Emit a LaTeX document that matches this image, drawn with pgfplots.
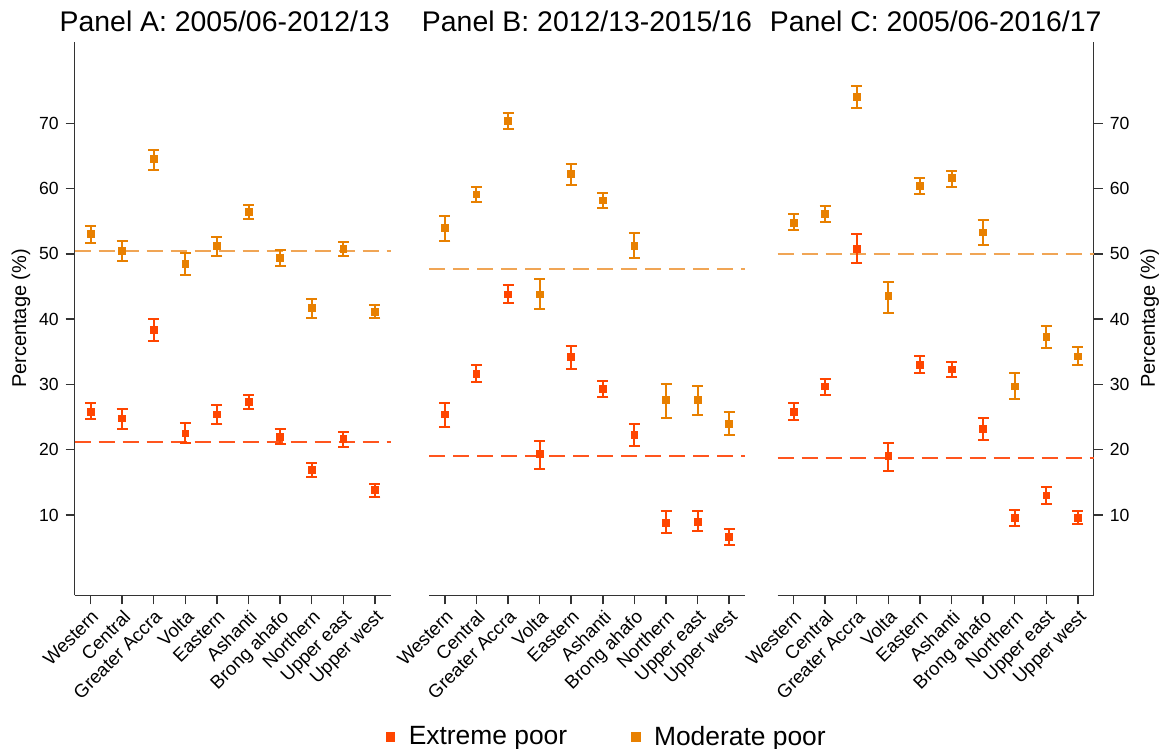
\documentclass[border=0pt]{standalone}
\usepackage{pgfplots}
\pgfplotsset{compat=1.18}
\usepackage{pgfplotstable}
\usepackage{fontspec}
\setmainfont{Liberation Sans}
\definecolor{ext}{RGB}{255,69,0}
\definecolor{mod}{RGB}{232,128,0}
\definecolor{extL}{RGB}{255,85,30}
\definecolor{modL}{RGB}{240,165,85}

\pgfplotstableread{
x y hi lo
0 25.8 27.1 24.7
1 24.8 26.2 23.2
2 38.3 40.0 36.6
3 22.5 24.1 21.0
4 25.4 26.8 24.0
5 27.3 28.4 26.3
6 22.0 23.1 20.9
7 16.9 18.0 15.8
8 21.6 22.7 20.4
9 13.8 14.8 12.8
}\extA
\pgfplotstableread{
x y hi lo
0 53.0 54.2 51.7
1 50.4 51.9 48.9
2 64.5 65.9 62.9
3 48.5 50.1 46.8
4 51.2 52.6 49.7
5 56.4 57.5 55.4
6 49.4 50.6 48.1
7 41.7 43.1 40.2
8 50.7 51.8 49.7
9 41.1 42.2 40.1
}\modA
\pgfplotstableread{
x y hi lo
0 25.4 27.2 23.5
1 31.6 33.0 30.4
2 43.8 45.3 42.4
3 19.3 21.3 17.1
4 34.2 35.9 32.4
5 29.3 30.5 28.0
6 22.3 24.0 20.5
7 8.8 10.6 7.2
8 9.0 10.6 7.6
9 6.6 7.8 5.4
}\extB
\pgfplotstableread{
x y hi lo
0 54.0 55.8 52.0
1 59.1 60.2 57.9
2 70.4 71.5 69.2
3 43.8 46.1 41.6
4 62.2 63.8 60.6
5 58.2 59.3 57.1
6 51.2 53.2 49.3
7 27.6 30.0 24.9
8 27.6 29.8 25.3
9 24.0 25.7 22.3
}\modB
\pgfplotstableread{
x y hi lo
0 25.8 27.1 24.6
1 29.7 30.9 28.4
2 50.8 53.0 48.6
3 19.0 21.1 16.8
4 33.0 34.3 31.7
5 32.3 33.5 31.1
6 23.2 24.8 21.5
7 9.6 10.7 8.3
8 13.0 14.3 11.7
9 9.6 10.6 8.6
}\extC
\pgfplotstableread{
x y hi lo
0 54.7 56.1 53.6
1 56.1 57.3 54.9
2 74.0 75.7 72.3
3 43.5 45.7 41.0
4 60.4 61.6 59.2
5 61.6 62.7 60.3
6 53.3 55.2 51.4
7 29.7 31.7 27.7
8 37.3 39.0 35.6
9 34.3 35.8 32.9
}\modC

\pgfplotsset{
  panel/.style={
    scale only axis, width=158pt, height=276.8pt, anchor=south west,
    xmin=-0.5, xmax=9.5, ymin=-2.3, ymax=82.5,
    axis x line*=bottom,
    axis line style={line width=0.75pt, draw=black!80},
    tick style={line width=0.75pt, draw=black!80},
    tick align=outside, major tick length=4.5pt,
    xtick={0,...,9},
    xticklabels={Western,Central,Greater Accra,Volta,Eastern,Ashanti,Brong ahafo,Northern,Upper east,Upper west},
    xticklabel style={rotate=45, anchor=north east, inner sep=1.5pt, font=\fontsize{9.3}{10}\selectfont},
    yticklabel style={font=\fontsize{8.8}{10}\selectfont},
    ytick={10,20,...,70},
    /pgf/number format/assume math mode=true,
    title style={at={(0.5,1)}, anchor=base, yshift=-1pt, font=\fontsize{14.2}{16}\selectfont},
    ylabel style={font=\fontsize{10}{12}\selectfont, anchor=center},
    clip=false,
  },
  ptser/.style={forget plot, only marks, mark=square*, mark size=1.7pt, color=#1, mark options={fill=#1, draw=#1},
    error bars/.cd, y dir=both, y explicit,
    error bar style={line width=1pt, color=#1},
    error mark options={rotate=90, mark size=2.75pt, line width=1pt, color=#1}},
  avg/.style={line width=1pt, color=#1, dash pattern=on 8pt off 4pt, forget plot},
}

\begin{document}
\begin{tikzpicture}
\path[use as bounding box] (0,0) rectangle (581.5pt,374.5pt);

% Panel A
\begin{axis}[panel, at={(37.35pt,76.85pt)}, axis y line*=left,
  title={Panel A: 2005/06-2012/13}, title style={xshift=-4pt}, ylabel={Percentage (\%)},
  ylabel style={at={(axis description cs:-0.17,0.5)}}]
\addplot[avg=modL] coordinates {(-0.5,50.5) (9.5,50.5)};
\addplot[avg=extL] coordinates {(-0.5,21.2) (9.5,21.2)};
\addplot[ptser=ext] table[x=x,y=y,y error plus expr=\thisrow{hi}-\thisrow{y},y error minus expr=\thisrow{y}-\thisrow{lo}] {\extA};
\addplot[ptser=mod] table[x=x,y=y,y error plus expr=\thisrow{hi}-\thisrow{y},y error minus expr=\thisrow{y}-\thisrow{lo}] {\modA};
\end{axis}

% Panel B
\begin{axis}[panel, at={(214.5pt,76.85pt)}, axis y line=none,
  title={Panel B: 2012/13-2015/16},
  legend columns=2,
  legend style={at={(0.566,-0.256)}, anchor=center, draw=none, fill=none,
    font=\fontsize{13.2}{15}\selectfont,
    /tikz/every odd column/.append style={column sep=5pt},
    /tikz/every even column/.append style={column sep=30pt}},
  legend cell align=left]
\addplot[avg=modL] coordinates {(-0.5,47.7) (9.5,47.7)};
\addplot[avg=extL] coordinates {(-0.5,19.0) (9.5,19.0)};
\addplot[ptser=ext] table[x=x,y=y,y error plus expr=\thisrow{hi}-\thisrow{y},y error minus expr=\thisrow{y}-\thisrow{lo}] {\extB};
\addplot[ptser=mod] table[x=x,y=y,y error plus expr=\thisrow{hi}-\thisrow{y},y error minus expr=\thisrow{y}-\thisrow{lo}] {\modB};
\addlegendimage{only marks, mark=square*, mark size=2.2pt, color=ext, fill=ext}
\addlegendentry{Extreme poor}
\addlegendimage{only marks, mark=square*, mark size=2.2pt, color=mod, fill=mod}
\addlegendentry{Moderate poor}
\end{axis}

% Panel C
\begin{axis}[panel, at={(388.85pt,76.85pt)}, axis y line*=right,
  title={Panel C: 2005/06-2016/17}, ylabel={Percentage (\%)},
  ylabel style={at={(axis description cs:1.177,0.5)}}]
\addplot[avg=modL] coordinates {(-0.5,50.0) (9.5,50.0)};
\addplot[avg=extL] coordinates {(-0.5,18.8) (9.5,18.8)};
\addplot[ptser=ext] table[x=x,y=y,y error plus expr=\thisrow{hi}-\thisrow{y},y error minus expr=\thisrow{y}-\thisrow{lo}] {\extC};
\addplot[ptser=mod] table[x=x,y=y,y error plus expr=\thisrow{hi}-\thisrow{y},y error minus expr=\thisrow{y}-\thisrow{lo}] {\modC};
\end{axis}
\end{tikzpicture}
\end{document}
